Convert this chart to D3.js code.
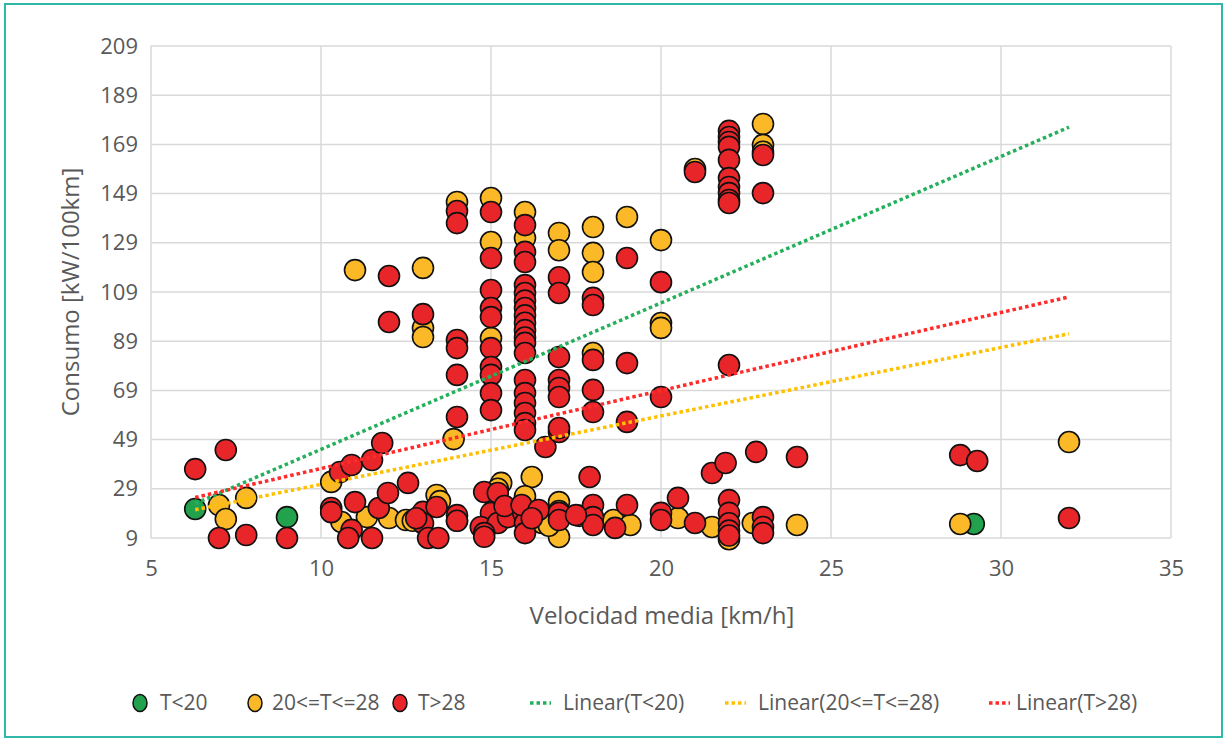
<!DOCTYPE html>
<html><head><meta charset="utf-8">
<script src="https://cdn.jsdelivr.net/npm/d3@7"></script>
<style>body{margin:0;background:#fff}svg{display:block}</style>
</head><body><svg id="c" width="1227" height="742"></svg>
<script>
const xTicks = [5,10,15,20,25,30,35];
const yTicks = [9,29,49,69,89,109,129,149,169,189,209];
const seriesNames = ["T<20","20<=T<=28","T>28"];
const trendNames = ["Linear(T<20)","Linear(20<=T<=28)","Linear(T>28)"];
const green = [[6.3,20.8],[9.0,17.5],[29.2,14.7]];
const orange = [
[7.0,22.4],[7.2,16.7],[7.8,25.3],
[10.3,31.8],[10.6,15.5],[11.0,117.9],[11.35,17.5],[12.0,17.1],[12.5,16.3],[13.0,118.8],[13.0,94.4],[13.0,90.7],[13.4,26.5],[13.5,24],[12.7,16],
[14.0,145.6],[13.9,49.2],[14.0,16],
[15.0,147.2],[15.0,129.3],[15.0,90.3],[15.3,31.4],[15.2,29],[15.3,20],
[16.0,141.5],[16.0,131],[16.2,33.8],[16.0,24.4],[16.0,26],[16.5,15.1],[15.9,18],
[17.0,133],[17.0,126],[17.0,23.6],[17.0,9.4],[17.0,20],[16.7,14],
[18.0,135.4],[18.0,124.9],[18.0,117.1],[18.0,84.2],[18.6,16.3],[19.1,14.3],[17.6,18],
[19.0,139.5],
[20.0,130.1],[20.0,96.4],[20.0,94.4],[20.5,17.1],[21.0,159],[21.5,13.5],[22.0,8.5],[22.7,15.1],[23,177.3],[23,168.8],[23,166],[24.0,14.3],
[28.8,14.7],[32,48]
];
const red = [
[6.3,37.0],[7.2,44.8],[7.0,9.0],[7.8,10.2],[9.0,9.0],
[10.3,21.2],[10.3,19.5],[10.56,35.8],[10.9,38.7],[11.5,40.7],[11.8,47.6],[11.0,23.6],[11.7,21.2],[11.97,27.3],[10.9,12.3],[10.8,9],[11.5,9],[12.0,115.5],[12.0,96.8],[12.56,31.4],[13.0,100],[13.0,19.6],[13.4,21.6],[13.0,15],[13.15,9],[13.45,9],[12.8,17],
[14.0,141.9],[14.0,137],[14.0,89.5],[14.0,86.2],[14.0,75.3],[14.0,58.2],[14.0,18.3],[14.0,16],
[15.0,141.5],[15.0,122.8],[15.0,109.8],[15.0,102.5],[15.0,98.8],[15.0,86.2],[15.0,78.5],[15.0,75.3],[15.0,67.9],[15.0,61.0],
[14.8,27.7],[15.2,27.3],[15.0,19.2],[14.7,13.5],[15.2,15.1],[14.8,11],[15.5,17.5],[14.8,9.5],[15.4,22],
[16,136.2],[16,125.3],[16,121.2],[16,111.8],[16,108.6],[16,105.5],[16,102.5],[16,99.5],[16,96.5],[16,93.5],[16,90.5],[16,88.3],[16,84.2],[16,73.2],[16,67.9],[16,63.9],[16,59.8],[16,55.7],[16,52.9],
[16.6,46],[17.0,52.1],[15.95,19.2],[16,15.1],[15.9,22.4],[16.4,20.4],[16,11],[16.2,17],
[17,115],[17,108.6],[17,82.6],[17,73.2],[17,70],[17,66.3],[17,53.7],[17,19.2],[17,16.3],
[18,106.6],[18,103.7],[18,81.4],[18,69.2],[18,60.2],[17.9,33.8],[18,22.4],[18,17.5],[18,14.3],[17.5,18.3],[18.65,13.1],[19,22.4],[19,122.8],[19,80.1],[19,56.2],
[20,113],[20,66.3],[20,19.2],[20,16.3],[20.5,25.3],[21,15.1],[21,157.8],
[22,174.5],[22,172],[22,170],[22,168],[22,162.7],[22,155.3],[22,151.7],[22,149.2],[22,146.4],[22,145.2],[22,79.3],[22,24.4],[22,19.2],[22,15],[22,12],[22,10],
[21.5,35.4],[21.9,39.5],[22.8,44],[24,41.9],[23,164.7],[23,149.2],[23,17.5],[23,13.5],[23,11],
[28.8,42.7],[29.3,40.3],[32,17.1]
];
const trendX = [6.3, 32];
const trendGreen = [23, 176];
const trendOrange = [20.5, 92];
const trendRed = [25.5, 107];

const fills = ["#23a24d","#fbb927","#e8262a"];
const lineCols = ["#22b05a","#ffc000","#ff2a2a"];
const textCol = "#595959";
const font = "'Open Sans', sans-serif";

const svg = d3.select("#c");
svg.append("rect").attr("x",5).attr("y",4).attr("width",1217).attr("height",733)
  .attr("fill","#fff").attr("stroke","#2fb7a8").attr("stroke-width",2);

const x = d3.scaleLinear().domain([5,35]).range([151,1171]);
const y = d3.scaleLinear().domain([9,209]).range([538,46]);

const g = svg.append("g");
g.selectAll(".gx").data(xTicks).join("line")
  .attr("x1",d=>x(d)).attr("x2",d=>x(d)).attr("y1",y(209)).attr("y2",y(9))
  .attr("stroke","#d9d9d9").attr("stroke-width",1.5);
g.selectAll(".gy").data(yTicks).join("line")
  .attr("y1",d=>y(d)).attr("y2",d=>y(d)).attr("x1",x(5)).attr("x2",x(35))
  .attr("stroke","#d9d9d9").attr("stroke-width",1.5);

const xAxis = svg.append("g").attr("transform",`translate(0,${y(9)})`)
  .call(d3.axisBottom(x).tickValues(xTicks).tickSize(0).tickPadding(22));
const yAxis = svg.append("g").attr("transform",`translate(${x(5)},0)`)
  .call(d3.axisLeft(y).tickValues(yTicks).tickSize(0).tickPadding(13));
[xAxis,yAxis].forEach(a=>{
  a.select(".domain").remove();
  a.selectAll("text").attr("fill",textCol).style("font-family",font).style("font-size","22px");
});

const dot = (data,i)=>svg.append("g").selectAll("circle").data(data).join("circle")
  .attr("cx",d=>x(d[0])).attr("cy",d=>y(d[1])).attr("r",10.5)
  .attr("fill",fills[i]).attr("stroke","#111").attr("stroke-width",1.6);
dot(green,0); dot(orange,1); dot(red,2);

[trendGreen,trendOrange,trendRed].forEach((t,i)=>{
  svg.append("line").attr("x1",x(trendX[0])).attr("y1",y(t[0]))
    .attr("x2",x(trendX[1])).attr("y2",y(t[1]))
    .attr("stroke",lineCols[i]).attr("stroke-width",3.5).attr("stroke-dasharray","3.5 3");
});

svg.append("text").attr("x",662).attr("y",624).attr("text-anchor","middle")
  .attr("fill",textCol).style("font-family",font).style("font-size","24px").text("Velocidad media [km/h]");
svg.append("text").attr("transform","translate(79,292) rotate(-90)").attr("text-anchor","middle")
  .attr("fill",textCol).style("font-family",font).style("font-size","24px").text("Consumo [kW/100km]");

const ly = 703;
const markerX = [140,255,400];
const markerTextX = [160,272,418];
seriesNames.forEach((n,i)=>{
  svg.append("ellipse").attr("cx",markerX[i]).attr("cy",ly).attr("rx",7).attr("ry",8.5)
    .attr("fill",fills[i]).attr("stroke","#111").attr("stroke-width",1.5);
  svg.append("text").attr("x",markerTextX[i]).attr("y",ly+7).attr("fill",textCol)
    .style("font-family",font).style("font-size","21px").text(n);
});
const lineX = [530,725,989];
const lineTextX = [563,758,1016];
trendNames.forEach((n,i)=>{
  svg.append("line").attr("x1",lineX[i]).attr("x2",lineX[i]+21).attr("y1",ly).attr("y2",ly)
    .attr("stroke",lineCols[i]).attr("stroke-width",3.5).attr("stroke-dasharray","3.5 3");
  svg.append("text").attr("x",lineTextX[i]).attr("y",ly+7).attr("fill",textCol)
    .style("font-family",font).style("font-size","21px").text(n);
});
</script></body></html>
